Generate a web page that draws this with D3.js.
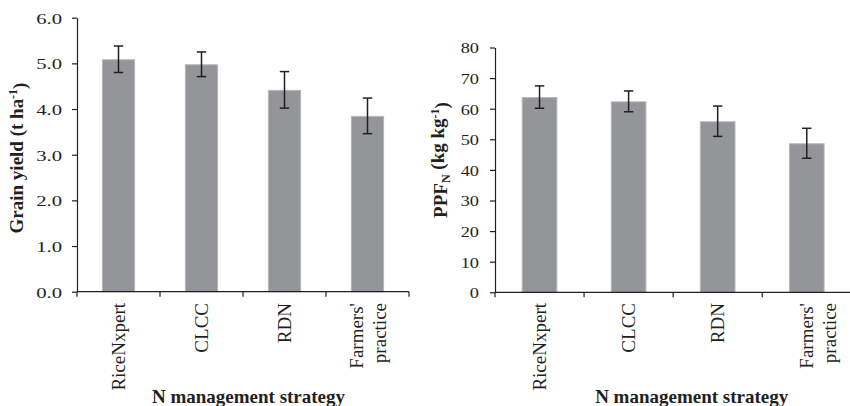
<!DOCTYPE html>
<html>
<head>
<meta charset="utf-8">
<script src="https://cdn.jsdelivr.net/npm/d3@7"></script>
<style>
  html, body { margin: 0; padding: 0; background: #fff; }
  svg { display: block; }
  text { font-family: "Liberation Serif", "Times New Roman", serif; fill: #231f20; }
</style>
</head>
<body>
<svg id="chart" width="850" height="406"></svg>
<script>
// ---- data ----
const categories = ["RiceNxpert", "CLCC", "RDN", "Farmers' practice"];
const categoryLines = [["RiceNxpert"], ["CLCC"], ["RDN"], ["Farmers'", "practice"]];

const grainYield = [5.09, 4.98, 4.42, 3.85];
const grainYieldErr = [0.29, 0.27, 0.40, 0.39];
const grainYieldTicks = [0, 1, 2, 3, 4, 5, 6];

const ppfn = [63.8, 62.4, 55.9, 48.7];
const ppfnErr = [3.65, 3.4, 4.95, 4.9];
const ppfnTicks = [0, 10, 20, 30, 40, 50, 60, 70, 80];

const xTitle = "N management strategy";

// ---- layout / style ----
const svg = d3.select("#chart");
const barFill = "#939598";
const barEdge = "#b4b6b8";
const ink = "#231f20";

const panels = [
  {
    values: grainYield, errs: grainYieldErr, ticks: grainYieldTicks,
    domain: [0, 6], fmt: d3.format(".1f"),
    xr: [77, 409], yr: [291.7, 17.7],
    tickScaleX: 1.38, labelGap: 15,
    twoLineShift: -11,
    xTitleX: 248.5,
    yTitleX: 22.5, yTitleY: 158,
    yTitle: (t) => {
      t.append("tspan").text("Grain yield (t ha");
      t.append("tspan").attr("dy", "-0.45em").attr("font-size", "12px").text("-1");
      t.append("tspan").attr("dy", "0.45em").text(")");
    }
  },
  {
    values: ppfn, errs: ppfnErr, ticks: ppfnTicks,
    domain: [0, 80], fmt: d3.format("d"),
    xr: [495, 851.3], yr: [292.3, 47.5],
    tickScaleX: 1.22, labelGap: 16,
    twoLineShift: 0,
    xTitleX: 691.7,
    yTitleX: 446.5, yTitleY: 160,
    yTitle: (t) => {
      t.append("tspan").text("PPF");
      t.append("tspan").attr("dy", "0.3em").attr("font-size", "12px").text("N");
      t.append("tspan").attr("dy", "-0.3em").text(" (kg kg");
      t.append("tspan").attr("dy", "-0.45em").attr("font-size", "12px").text("-1");
      t.append("tspan").attr("dy", "0.45em").text(")");
    }
  }
];

panels.forEach(p => {
  const g = svg.append("g");
  const x = d3.scaleBand().domain(categories).range(p.xr).padding(0);
  const y = d3.scaleLinear().domain(p.domain).range(p.yr);
  const bw = x.bandwidth();

  // bars
  g.selectAll("rect.bar").data(categories).join("rect")
    .attr("class", "bar")
    .attr("x", (c) => x(c) + bw * 0.3 + 0.5)
    .attr("width", bw * 0.4 - 1)
    .attr("y", (c, i) => y(p.values[i]) + 0.5)
    .attr("height", (c, i) => y(0) - y(p.values[i]) - 0.5)
    .attr("fill", barFill)
    .attr("stroke", barEdge)
    .attr("stroke-width", 1);

  // error bars
  const eb = g.selectAll("g.err").data(categories).join("g").attr("class", "err")
    .attr("stroke", ink).attr("stroke-width", 1.5);
  eb.append("line")
    .attr("x1", (c) => x(c) + bw / 2).attr("x2", (c) => x(c) + bw / 2)
    .attr("y1", (c, i) => y(p.values[i] + p.errs[i]))
    .attr("y2", (c, i) => y(p.values[i] - p.errs[i]));
  eb.append("line")
    .attr("x1", (c) => x(c) + bw / 2 - 4.7).attr("x2", (c) => x(c) + bw / 2 + 4.7)
    .attr("y1", (c, i) => y(p.values[i] + p.errs[i]))
    .attr("y2", (c, i) => y(p.values[i] + p.errs[i]));
  eb.append("line")
    .attr("x1", (c) => x(c) + bw / 2 - 4.7).attr("x2", (c) => x(c) + bw / 2 + 4.7)
    .attr("y1", (c, i) => y(p.values[i] - p.errs[i]))
    .attr("y2", (c, i) => y(p.values[i] - p.errs[i]));

  // y axis
  const ya = g.append("g")
    .attr("transform", `translate(${p.xr[0]},0)`)
    .call(d3.axisLeft(y).tickValues(p.ticks).tickFormat(p.fmt).tickSize(5).tickSizeOuter(0));
  ya.select(".domain").attr("stroke", ink).attr("stroke-width", 1.2);
  ya.selectAll(".tick line").attr("stroke", ink).attr("stroke-width", 1.2);
  ya.selectAll(".tick text")
    .attr("x", 0)
    .attr("dy", "0.36em")
    .attr("font-size", "15px")
    .attr("font-family", "Liberation Serif, Times New Roman, serif")
    .attr("fill", ink)
    .attr("transform", `translate(${-p.labelGap},0) scale(${p.tickScaleX},1)`);

  // x axis line + boundary ticks
  g.append("line")
    .attr("x1", p.xr[0]).attr("x2", p.xr[1])
    .attr("y1", y(0)).attr("y2", y(0))
    .attr("stroke", ink).attr("stroke-width", 1.2);
  const bounds = categories.map(c => x(c)).concat([p.xr[1]]);
  g.selectAll("line.xt").data(bounds).join("line")
    .attr("class", "xt")
    .attr("x1", d => d).attr("x2", d => d)
    .attr("y1", y(0)).attr("y2", y(0) + 5)
    .attr("stroke", ink).attr("stroke-width", 1.2);

  // category labels (rotated)
  categoryLines.forEach((lines, i) => {
    const cx = x(categories[i]) + bw / 2;
    const shift = lines.length > 1 ? p.twoLineShift : 0;
    const t = g.append("text")
      .attr("transform", `translate(${cx + shift},303) rotate(-90)`)
      .attr("text-anchor", "end")
      .attr("font-size", "19px");
    lines.forEach((ln, k) => {
      t.append("tspan").attr("x", 0)
        .attr("dy", k === 0 ? "0.35em" : "1.2em")
        .text(ln);
    });
  });

  // x title
  g.append("text")
    .attr("x", p.xTitleX).attr("y", 403)
    .attr("text-anchor", "middle")
    .attr("font-size", "19px").attr("font-weight", "bold")
    .text(xTitle);

  // y title
  const yt = g.append("text")
    .attr("transform", `translate(${p.yTitleX},${p.yTitleY}) rotate(-90)`)
    .attr("text-anchor", "middle")
    .attr("font-size", "19px").attr("font-weight", "bold");
  p.yTitle(yt);
});
</script>
</body>
</html>
